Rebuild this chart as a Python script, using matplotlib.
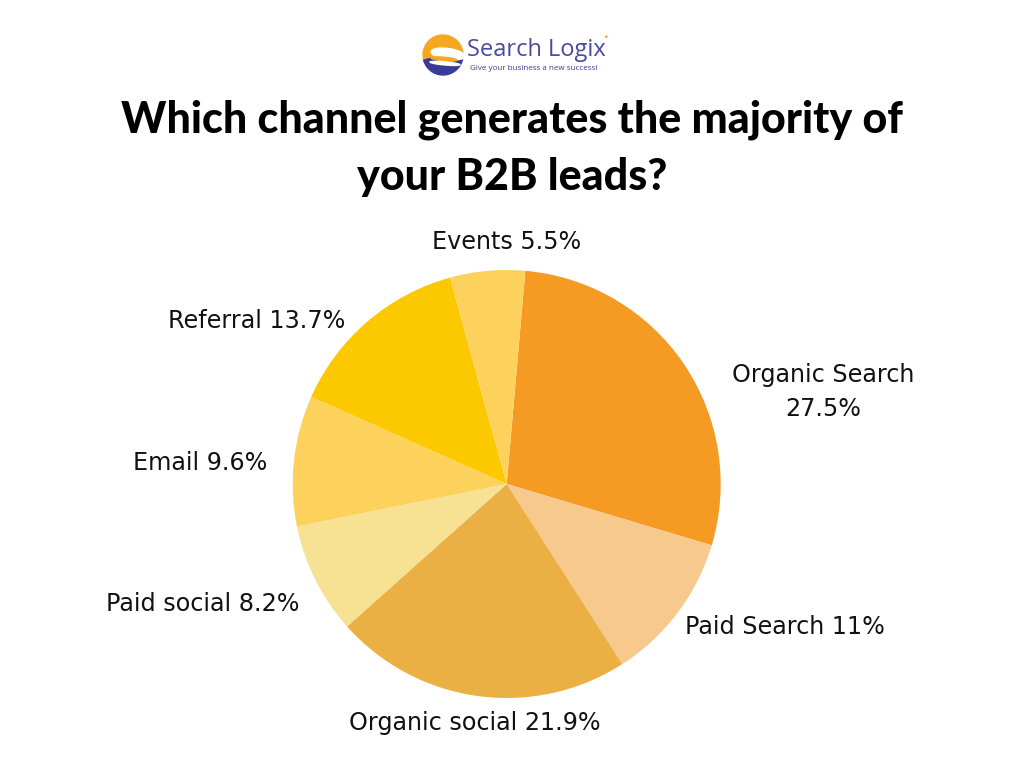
import matplotlib
matplotlib.use("Agg")
import matplotlib.pyplot as plt
from matplotlib.patches import Wedge, Ellipse

categories = ["Organic Search", "Paid Search", "Organic social", "Paid social",
              "Email", "Referral", "Events"]
values = [27.5, 11, 21.9, 8.2, 9.6, 13.7, 5.5]
label_texts = ["Organic Search\n27.5%", "Paid Search 11%", "Organic social 21.9%",
               "Paid social 8.2%", "Email 9.6%", "Referral 13.7%", "Events 5.5%"]
colors = ["#F59B23", "#F7C98D", "#EBB043", "#F7E193", "#FDD25C", "#FCC900", "#FDD25C"]

# layout (label anchor positions in pie radius units)
label_xy = [(1.48, 0.43), (1.30, -0.67), (-0.15, -1.115), (-1.42, -0.56),
            (-1.43, 0.10), (-1.17, 0.76), (0.0, 1.13)]

W, H = 1024, 768
fig = plt.figure(figsize=(W / 100, H / 100), dpi=100)
fig.patch.set_facecolor("white")

cx, cy, r = 506.7, 484, 214
ax = fig.add_axes([(cx - r) / W, (H - cy - r) / H, 2 * r / W, 2 * r / H])
wedges, _ = ax.pie(values, colors=colors, startangle=85, counterclock=False,
                   radius=1, wedgeprops=dict(linewidth=0))
ax.set_xlim(-1, 1)
ax.set_ylim(-1, 1)
ax.set_aspect("equal")
ax.axis("off")

for txt, (lx, ly) in zip(label_texts, label_xy):
    ax.text(lx, ly, txt, ha="center", va="center", fontsize=17.2,
            family="DejaVu Sans", color="#111111", linespacing=1.5, clip_on=False)

# title
fig.text(0.5, 1 - 120 / H, "Which channel generates the majority of",
         ha="center", va="center", fontsize=31, fontweight="black",
         family="Lato", color="#000000")
fig.text(0.5, 1 - 177 / H, "your B2B leads?",
         ha="center", va="center", fontsize=31, fontweight="black",
         family="Lato", color="#000000")

# logo
lax = fig.add_axes([418 / W, 1 - 80 / H, 50 / W, 50 / H])
lax.set_xlim(-1.25, 1.25)
lax.set_ylim(-1.25, 1.25)
lax.set_aspect("equal")
lax.axis("off")
lax.add_patch(Wedge((0, 0), 1.0, 5, 195, color="#F4A81D"))
lax.add_patch(Wedge((0, 0), 1.0, 195, 5, color="#3A3A98"))
lax.add_patch(Ellipse((0.25, 0.05), 1.7, 0.55, angle=-8, color="white"))
lax.add_patch(Ellipse((0.05, -0.2), 1.3, 0.18, angle=-5, color="#F4A81D"))
lax.add_patch(Ellipse((0.1, -0.42), 1.5, 0.16, angle=-5, color="white"))

fig.text(467 / W, 1 - 50 / H, "Search Logix", ha="left", va="center",
         fontsize=17, family="Open Sans", color="#4A4AA0")
fig.text(470 / W, 1 - 68 / H, "Give your business a new success!", ha="left",
         va="center", fontsize=5.8, family="Open Sans", color="#3A3A98")
fig.text(606 / W, 1 - 37 / H, "\u2726", ha="center", va="center",
         fontsize=4, family="DejaVu Sans", color="#F4A81D")

fig.savefig("out.png", dpi=100, facecolor="white")
